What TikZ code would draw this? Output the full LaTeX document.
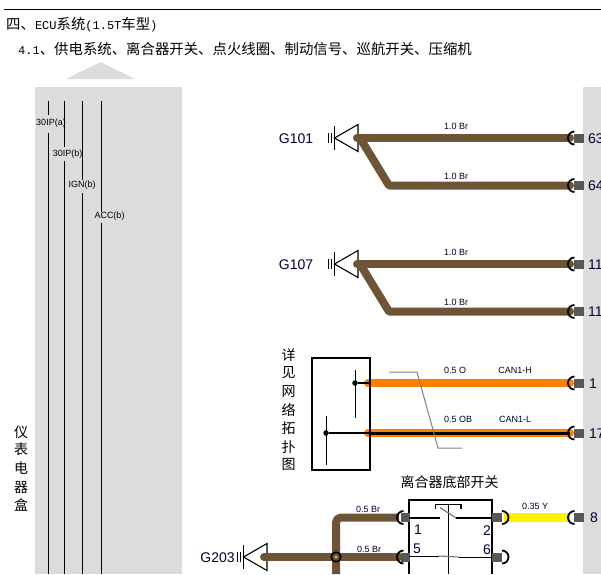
\documentclass[tikz,border=0pt]{standalone}
\usepackage{fontspec}
\setmainfont{Liberation Sans}
\newfontfamily\cjk{Noto Sans CJK SC}
\newfontfamily\hdr{Liberation Mono}
\usetikzlibrary{calc}
\definecolor{wirebrown}{RGB}{110,84,54}
\definecolor{wireorange}{RGB}{255,128,0}
\definecolor{panelgray}{RGB}{220,220,220}
\definecolor{pingray}{RGB}{88,88,88}
\tikzset{
  panel/.style={fill=panelgray,draw=none},
  brownwire/.style={draw=wirebrown,line width=8pt,line join=round,line cap=round},
  orangewire/.style={draw=wireorange,line width=8pt,line cap=round},
  busline/.style={draw=black,line width=1pt},
  wirelabel/.style={font=\fontsize{9}{9}\selectfont,inner sep=0pt,text=black!85!blue},
  pinlabel/.style={font=\fontsize{14}{14}\selectfont,inner sep=0pt,text=black!80!blue},
  gndlabel/.style={font=\fontsize{14}{14}\selectfont,inner sep=0pt,text=black!80!blue},
  buslabel/.style={font=\fontsize{9}{9}\selectfont,inner sep=0pt},
  cjklabel/.style={font=\cjk\fontsize{14}{14}\selectfont,inner sep=0pt},
  headlabel/.style={anchor=west,inner sep=0pt,font=\cjk\fontsize{14.4}{14.4}\selectfont},
  contact/.style={draw=black,line width=1.1pt},
  movearm/.style={draw=gray!90!black,line width=1.1pt},
  dot/.style={circle,fill=black,inner sep=0pt,minimum size=5.5pt},
}
% latin part of the head lines
\newcommand{\hl}[1]{{\hdr\fontsize{12}{12}\selectfont #1}}
% C shaped terminal, opening to the right
\newcommand{\termclip}[1]{%
  \draw[black,line width=1.8pt] ($(#1)+(4.5,-6.5)$) arc[start angle=-90,end angle=-270,radius=6.5];}
% same terminal, opening to the left
\newcommand{\termclipr}[1]{%
  \draw[black,line width=1.8pt] ($(#1)+(1,-6.5)$) arc[start angle=-90,end angle=90,radius=6.5];}
% ground symbol, the apex sits at (#1)
\newcommand{\gndsym}[1]{%
  \draw[black,line width=1.1pt] (#1) -- ++(23.5,-13.5) -- ++(0,27) -- cycle;
  \draw[black,line width=1.1pt] ($(#1)+(0,-12)$) -- ++(0,24);
  \draw[black,line width=0.9pt] ($(#1)+(-2.7,-5)$) -- ++(0,10);
  \draw[black,line width=0.9pt] ($(#1)+(-6.3,-5)$) -- ++(0,10);}
\begin{document}
\begin{tikzpicture}[x=1pt,y=-1pt]
\useasboundingbox (0,0) rectangle (601,574);
% page head
\draw[black,line width=1pt] (4,9.5) -- (601,9.5);
\node[headlabel] (head) at (6,24.5) {四、\hl{ECU}系统\hl{(1.5T}车型\hl{)}};
\node[headlabel] (sub) at (18,48.5) {\hl{4.1}、供电系统、离合器开关、点火线圈、制动信号、巡航开关、压缩机};
% panels
\fill[panelgray] (66,79) -- (100.5,62) -- (135,79) -- cycle;
\fill[panel] (35,87) rectangle (182,574);
\fill[panel] (583,87) rectangle (601,574);
% bus lines of the fuse box
\foreach \bx/\ga/\gb in {48.5/115/133,64.5/147/161,82.5/180/193,101.5/212/223}{
  \draw[busline] (\bx,101) -- (\bx,\ga);
  \draw[busline] (\bx,\gb) -- (\bx,574);
}
\foreach \bname/\by/\tx in {30IP(a)/122.7/51,30IP(b)/154.3/67.7,IGN(b)/185.5/82,ACC(b)/216/109.5}{
  \node[buslabel] at (\tx,\by) {\bname};
}
\foreach \ch/\cy in {仪/432,表/449,电/468,器/487,盒/505}{
  \node[cjklabel] at (21,\cy) {\ch};
}
% G101 and G107
\foreach \gname/\ya/\yb/\pa/\pb/\lab in {g101/138/185.5/63/64/G101,g107/264/311.5/11/11/G107}{
  \coordinate (\gname) at (334.5,\ya);
  \coordinate (\gname a) at (570,\ya);
  \coordinate (\gname b) at (570,\yb);
  \coordinate (\gname k) at (389,\yb);
  \gndsym{\gname}
  \draw[brownwire] (357,\ya) -- (\gname a);
  \draw[brownwire] (360,\ya) -- (\gname k) -- (\gname b);
  \node[gndlabel] at (296,\ya+1) {\lab};
  \node[wirelabel] at (456,\ya-12) {1.0 Br};
  \node[wirelabel] at (456,\yb-9) {1.0 Br};
  \fill[pingray] (574,\ya-4.5) rectangle (584,\ya+4.5);
  \fill[pingray] (574,\yb-4.5) rectangle (584,\yb+4.5);
  \termclip{\gname a}
  \termclip{\gname b}
  \node[pinlabel,anchor=west] at (588,\ya+0.5) {\pa};
  \node[pinlabel,anchor=west] at (588,\yb+0.5) {\pb};
}
% network box
\foreach \ch/\cy in {详/355,见/373,网/392,络/410,拓/428,扑/447,图/464}{
  \node[cjklabel] at (288.5,\cy) {\ch};
}
\coordinate (canh) at (570,383);
\coordinate (canl) at (570,433);
\draw[orangewire] (368,383) -- (canh);
\draw[orangewire] (368,433) -- (canl);
\draw[black,line width=3pt] (369,433) -- (canl);
\draw[black,line width=2pt] (312,357.5) rectangle (369.5,470);
\node[dot] (ndh) at (355,383) {};
\node[dot] (ndl) at (326,433) {};
\draw[black,line width=1pt] (355.5,370) -- (355.5,418);
\draw[black,line width=1pt] (326.5,416) -- (326.5,465);
\draw[black,line width=1.1pt] (ndh) -- (369,383);
\draw[black,line width=1.1pt] (ndl) -- (369,433);
\draw[gray,line width=1pt] (389,372) -- (417,372) -- (438,448) -- (462,448);
\fill[pingray] (574,378.5) rectangle (584,387.5);
\fill[pingray] (574,428.5) rectangle (584,437.5);
\termclip{canh}
\termclip{canl}
\node[pinlabel] at (593,384) {1};
\node[pinlabel,anchor=west] at (589,433.5) {17};
\node[wirelabel] at (455,370) {0.5 O};
\node[wirelabel] at (515,370) {CAN1-H};
\node[wirelabel] at (458,419) {0.5 OB};
\node[wirelabel] at (515,419) {CAN1-L};
% clutch switch
\node[cjklabel] (clutch) at (449.5,482) {离合器底部开关};
\coordinate (g203) at (243.5,557);
\coordinate (splice) at (336,557);
\coordinate (swa) at (399,517.5);
\coordinate (swb) at (399,557);
\coordinate (swc) at (501,517.5);
\coordinate (swd) at (501,557);
\coordinate (swo) at (570,517.5);
\gndsym{g203}
\draw[brownwire] (264,557) -- (swb);
\draw[brownwire,rounded corners=5pt,line cap=butt] (336,574) -- (336,517.5) -- (swa);
\draw[draw=yellow,line width=8.5pt] (504,517.5) -- (swo);
\node[gndlabel] at (217.5,557.5) {G203};
\draw[black,line width=1.6pt] (splice) circle[radius=4.8];
\fill[white] (splice) circle[radius=1];
\node[wirelabel] at (368,509.5) {0.5 Br};
\node[wirelabel] at (369,549.5) {0.5 Br};
\node[wirelabel] at (535,506) {0.35 Y};
\draw[black,line width=2pt] (409,574) -- (409,500) -- (491.5,500) -- (491.5,574);
\foreach \py in {517.5,557}{
  \fill[pingray] (401,\py-4.5) rectangle (410,\py+4.5);
  \fill[pingray] (492,\py-4.5) rectangle (502,\py+4.5);
}
\termclip{swa}
\termclip{swb}
\termclipr{swc}
\termclipr{swd}
\termclip{swo}
\fill[pingray] (574,513) rectangle (584,522);
\node[pinlabel] at (594,517.5) {8};
\draw[contact] (435.5,508.5) -- (435.5,504.5) -- (461,504.5) -- (461,508.5);
\draw[contact] (448.5,504.5) -- (448.5,574);
\draw[contact] (409,518) -- (440,518);
\draw[movearm] (440,507.5) -- (456,518);
\draw[contact] (456,518) -- (491.5,518);
\draw[contact] (409,556.5) -- (439,556.5);
\draw[movearm] (439,556) -- (459,557);
\draw[contact] (459,557.5) -- (491.5,557.5);
\node[pinlabel] at (418,529.5) {1};
\node[pinlabel] at (487,531) {2};
\node[pinlabel] at (417,549) {5};
\node[pinlabel] at (487,550) {6};
\end{tikzpicture}
\end{document}
